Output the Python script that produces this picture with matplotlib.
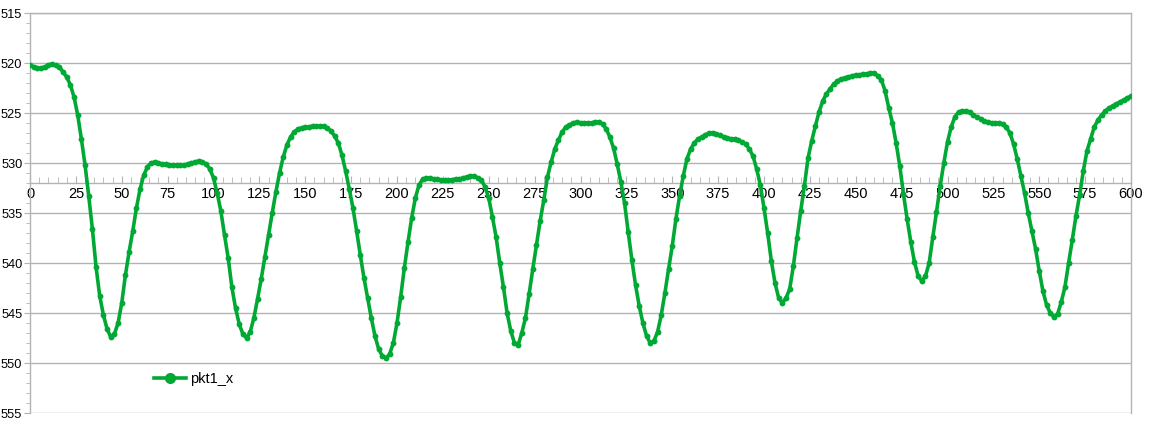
import matplotlib
matplotlib.use("Agg")
import matplotlib.pyplot as plt
from matplotlib.ticker import MultipleLocator
import numpy as np

plt.rcParams['font.family'] = ['Liberation Sans', 'DejaVu Sans']

series_name = "pkt1_x"
x_step = 2
x_values = list(range(0, 601, x_step))
pkt1_x = [
    520.2, 520.4, 520.5, 520.5, 520.4, 520.2, 520.1, 520.2, 520.4, 520.9,
    521.4, 522.2, 523.4, 525.2, 527.6, 530.2, 533.3, 536.6, 540.4, 543.3,
    545.2, 546.6, 547.4, 547.1, 546.0, 544.0, 541.2, 538.9, 536.8, 534.5,
    532.6, 531.2, 530.4, 530.0, 529.9, 530.0, 530.1, 530.1, 530.2, 530.2,
    530.2, 530.2, 530.2, 530.1, 530.0, 529.9, 529.8, 529.9, 530.1, 530.6,
    531.5, 533.0, 534.8, 537.2, 539.5, 542.4, 544.5, 546.1, 547.1, 547.5,
    546.9, 545.5, 543.6, 541.6, 539.4, 537.2, 535.0, 532.9, 531.0, 529.4,
    528.2, 527.4, 526.9, 526.6, 526.5, 526.4, 526.4, 526.3, 526.3, 526.3,
    526.3, 526.5, 526.8, 527.3, 528.0, 529.2, 530.8, 532.6, 534.5, 536.8,
    539.2, 541.5, 543.5, 545.5, 547.3, 548.6, 549.3, 549.5, 549.1, 548.0,
    546.0, 543.4, 540.5, 537.9, 535.5, 533.5, 532.2, 531.6, 531.5, 531.5,
    531.6, 531.6, 531.7, 531.7, 531.7, 531.7, 531.6, 531.6, 531.5, 531.4,
    531.3, 531.3, 531.5, 531.7, 532.4, 533.5, 535.4, 537.4, 540.0, 542.4,
    545.0, 546.8, 548.0, 548.2, 547.0, 545.5, 543.1, 540.6, 538.2, 535.8,
    533.7, 531.4, 529.9, 528.6, 527.7, 526.9, 526.4, 526.2, 526.0, 525.9,
    526.0, 526.0, 526.0, 526.0, 525.9, 525.9, 526.1, 526.6, 527.4, 528.5,
    530.1, 531.9, 534.0, 536.9, 539.7, 542.2, 544.3, 546.0, 547.3, 548.0,
    547.8, 546.9, 545.2, 543.0, 540.6, 538.3, 535.6, 533.3, 531.3, 529.6,
    528.6, 528.0, 527.6, 527.4, 527.2, 527.0, 527.0, 527.1, 527.2, 527.4,
    527.5, 527.6, 527.6, 527.7, 527.9, 528.1, 528.6, 529.3, 530.6, 532.2,
    534.5, 537.0, 539.8, 542.0, 543.5, 544.0, 543.5, 542.6, 540.3, 537.5,
    534.8, 532.3, 529.5, 527.8, 526.3, 524.9, 523.8, 523.1, 522.6, 522.1,
    521.8, 521.6, 521.5, 521.4, 521.3, 521.2, 521.2, 521.1, 521.1, 521.0,
    521.0, 521.3, 521.7, 522.8, 524.5, 526.0, 528.0, 530.3, 533.1, 535.6,
    537.9, 539.9, 541.3, 541.8, 541.3, 540.0, 537.4, 534.9, 532.3, 530.0,
    527.9, 526.4, 525.4, 524.9, 524.8, 524.8, 524.9, 525.2, 525.4, 525.6,
    525.8, 525.9, 526.0, 526.0, 526.0, 526.1, 526.4, 527.0, 528.1, 529.6,
    531.3, 533.0, 535.0, 536.8, 538.6, 540.8, 542.8, 544.2, 545.0, 545.4,
    545.1, 543.9, 542.4, 540.0, 537.7, 535.3, 533.2, 530.8, 528.8, 527.6,
    526.4, 525.7, 525.2, 524.8, 524.5, 524.3, 524.1, 523.9, 523.7, 523.5,
    523.3,
]

x_ticks = list(range(0, 601, 25))
y_ticks = list(range(515, 556, 5))

green = '#00A933'
grid_col = '#b3b3b3'

fig = plt.figure(figsize=(11.63, 4.30), dpi=100)
ax = fig.add_axes([30 / 1163, 17 / 430, 1101 / 1163, 400 / 430])

ax.plot(x_values, pkt1_x, color=green, lw=2.6, marker='o', ms=4.2,
        markeredgewidth=0, label=series_name, zorder=3)

ax.set_xlim(0, 600)
ax.set_ylim(555, 515)

ax.set_yticks(y_ticks)
ax.yaxis.set_minor_locator(MultipleLocator(1))
ax.set_xticks(x_ticks)
ax.xaxis.set_minor_locator(MultipleLocator(5))

ax.grid(axis='y', which='major', color=grid_col, lw=1)
ax.set_axisbelow(True)

for s in ['left', 'right', 'top', 'bottom']:
    ax.spines[s].set_color(grid_col)
    ax.spines[s].set_linewidth(1)
ax.spines['bottom'].set_position(('data', 532))

ax.tick_params(axis='y', which='major', direction='out', length=4, color=grid_col,
               labelsize=9.2, pad=1.5, labelcolor='black')
ax.tick_params(axis='y', which='minor', direction='out', length=3, color=grid_col)
ax.tick_params(axis='x', which='major', direction='in', length=5, color=grid_col,
               labelsize=10.5, pad=3, labelcolor='black')
ax.tick_params(axis='x', which='minor', direction='in', length=4, color=grid_col)

leg = ax.legend(loc='center left', bbox_to_anchor=(0.106, 0.085), frameon=False,
                fontsize=10.5, handlelength=2.2, markerscale=1.9, borderpad=0,
                handletextpad=0.3)
for t in leg.get_texts():
    t.set_color('black')

fig.savefig('out.png', dpi=100)
